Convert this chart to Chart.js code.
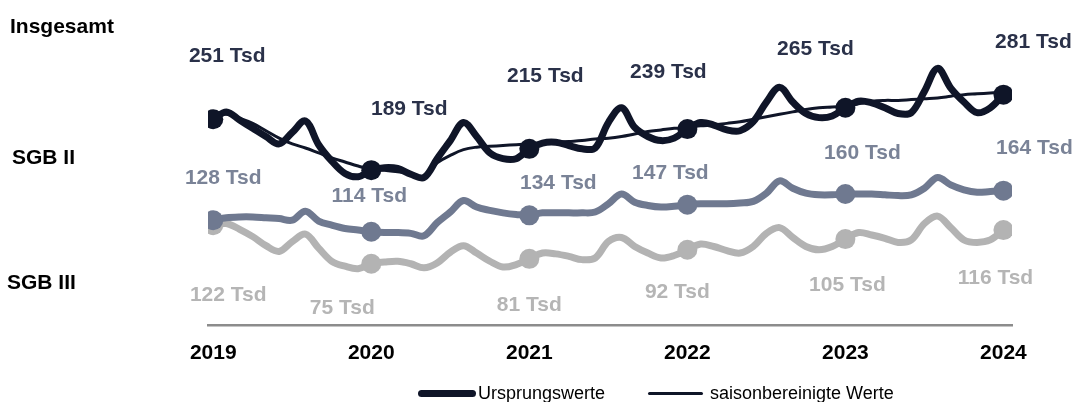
<!DOCTYPE html>
<html lang="de">
<head>
<meta charset="utf-8">
<title>Arbeitslose</title>
<script src="https://cdn.jsdelivr.net/npm/chart.js@4.4.1/dist/chart.umd.min.js"></script>
<style>
  html, body { margin: 0; padding: 0; background: #fff; }
  body { font-family: "Liberation Sans", Arial, sans-serif; }
  .wrap { position: relative; width: 1074px; height: 402px; overflow: hidden; }
  #chart { position: absolute; left: 0; top: 0; }
  .item { position: absolute; top: 383px; height: 21px; display: flex; align-items: center;
          font-size: 18px; color: #000; white-space: nowrap; }
  .swatch { display: inline-block; background: #0f1528; margin-right: 2px; }
</style>
</head>
<body>
<div class="wrap">
  <canvas id="chart" width="1074" height="402"></canvas>
  <div class="item" style="left:418px"><span class="swatch" style="width:58px;height:7px;border-radius:4px"></span>Ursprungswerte</div>
  <div class="item" style="left:648px"><span class="swatch" style="width:55px;height:3px;border-radius:2px"></span>&nbsp;saisonbereinigte Werte</div>
</div>
<script>
// Jahre (Januarwerte), monatliche Werte Jan 2019 - Jan 2024, in Tsd
const years = ['2019', '2020', '2021', '2022', '2023', '2024'];

// Insgesamt, Ursprungswerte
const insgesamt = [
    251, 260, 250, 240, 230, 221, 235, 249, 220, 200, 185, 181,
    189, 192, 191, 184, 180, 203, 225, 247, 230, 210, 203, 203,
    215, 222, 223, 219, 215, 216, 247, 265, 241, 230, 225, 228,
    239, 247, 244, 238, 237, 248, 272, 290, 272, 258, 253, 255,
    265, 273, 271, 265, 258, 259, 285, 313, 289, 272, 259, 265,
    281
];

// Insgesamt, saisonbereinigt
const insgesamtSb = [
    254, 257, 252, 246, 237, 228, 221, 216, 210, 204, 199, 194,
    190, 189, 187, 185, 182, 198, 207, 214, 217, 218, 219, 220,
    221, 222, 223, 224, 225, 227, 228, 230, 233, 236, 238, 240,
    241, 243, 244, 246, 248, 251, 254, 257, 260, 263, 265, 266,
    267, 270, 273, 274, 274, 275, 276, 277, 279, 281, 282, 283,
    284
];

// SGB II
const sgb2 = [
    128, 131, 132, 132, 131, 130, 128, 139, 127, 122, 118, 116,
    114, 113, 113, 112, 109, 125, 138, 152, 144, 140, 137, 135,
    134, 137, 137, 137, 137, 138, 148, 160, 150, 146, 144, 145,
    147, 148, 148, 148, 149, 151, 161, 176, 167, 161, 159, 159,
    160, 160, 160, 159, 158, 159, 167, 180, 171, 165, 162, 163,
    164
];

// SGB III
const sgb3 = [
    122, 124, 117, 108, 97, 90, 102, 111, 94, 78, 72, 69,
    75, 77, 78, 75, 70, 76, 89, 97, 88, 78, 71, 74,
    81, 88, 87, 84, 80, 82, 102, 107, 96, 88, 82, 85,
    92, 99, 96, 91, 88, 96, 112, 119, 107, 96, 92, 96,
    105, 113, 110, 106, 101, 104, 124, 133, 119, 104, 101, 104,
    116
];

const NAVY = '#0f1528';
const SLATE = '#6f7990';
const GREY = '#b3b3b3';

const toPoints = arr => arr.map((y, i) => ({ x: i, y: y }));
const yearMarker = ctx => (ctx.dataIndex % 12 === 0 ? 10 : 0);

// label offsets (px) from the January marker, per year
const labelSets = [
    { dataset: 0, color: '#2a3149', offsets: [[14, -63], [38, -61], [16, -73], [-19, -57], [-30, -59], [30, -52]] },
    { dataset: 2, color: '#7a8397', offsets: [[10, -42], [-2, -36], [29, -32], [-17, -31], [17, -41], [31, -42]] },
    { dataset: 3, color: '#b5b5b5', offsets: [[15, 70], [-29, 44], [0, 46], [-10, 42], [2, 46], [-8, 48]] }
];

const rowTitles = [
    { text: 'Insgesamt', x: 10, y: 33 },
    { text: 'SGB II', x: 12, y: 164 },
    { text: 'SGB III', x: 7, y: 289 }
];

const valueLabels = {
    id: 'valueLabels',
    afterDatasetsDraw(chart) {
        const ctx = chart.ctx;
        ctx.save();
        ctx.font = 'bold 21px "Liberation Sans", Arial, sans-serif';
        ctx.textAlign = 'center';
        ctx.textBaseline = 'middle';
        labelSets.forEach(set => {
            const meta = chart.getDatasetMeta(set.dataset);
            const data = chart.data.datasets[set.dataset].data;
            ctx.fillStyle = set.color;
            set.offsets.forEach((off, k) => {
                const pt = meta.data[k * 12];
                ctx.fillText(data[k * 12].y + ' Tsd', pt.x + off[0], pt.y + off[1]);
            });
        });
        ctx.fillStyle = '#000';
        ctx.textAlign = 'left';
        ctx.textBaseline = 'alphabetic';
        rowTitles.forEach(t => ctx.fillText(t.text, t.x, t.y));
        ctx.restore();
    }
};

new Chart(document.getElementById('chart'), {
    type: 'line',
    data: {
        datasets: [
            {
                label: 'Insgesamt',
                data: toPoints(insgesamt),
                borderColor: NAVY,
                backgroundColor: NAVY,
                borderWidth: 7,
                pointRadius: yearMarker,
                pointBorderWidth: 0,
                tension: 0.35
            },
            {
                label: 'Insgesamt saisonbereinigt',
                data: toPoints(insgesamtSb),
                borderColor: NAVY,
                borderWidth: 3,
                pointRadius: 0,
                tension: 0.4
            },
            {
                label: 'SGB II',
                data: toPoints(sgb2),
                borderColor: SLATE,
                backgroundColor: SLATE,
                borderWidth: 7,
                pointRadius: yearMarker,
                pointBorderWidth: 0,
                tension: 0.35
            },
            {
                label: 'SGB III',
                data: toPoints(sgb3),
                borderColor: GREY,
                backgroundColor: GREY,
                borderWidth: 7,
                pointRadius: yearMarker,
                pointBorderWidth: 0,
                tension: 0.35
            }
        ]
    },
    options: {
        responsive: false,
        devicePixelRatio: 1,
        animation: false,
        layout: { padding: { left: 208, right: 62, top: 38, bottom: 21.5 } },
        plugins: {
            legend: { display: false },
            tooltip: { enabled: false }
        },
        scales: {
            x: {
                type: 'linear',
                min: -0.4,
                max: 60.65,
                grid: { display: false, drawTicks: false },
                border: { display: true, color: '#8c8c8c', width: 2.5 },
                afterBuildTicks: scale => {
                    scale.ticks = years.map((_, i) => ({ value: i * 12 }));
                },
                ticks: {
                    padding: 15,
                    autoSkip: false,
                    maxRotation: 0,
                    color: '#000',
                    font: { family: '"Liberation Sans", Arial, sans-serif', size: 21, weight: 'bold' },
                    callback: v => years[Math.round(v / 12)]
                }
            },
            y: {
                display: false,
                min: 0,
                max: 350
            }
        }
    },
    plugins: [valueLabels]
});
</script>
</body>
</html>
